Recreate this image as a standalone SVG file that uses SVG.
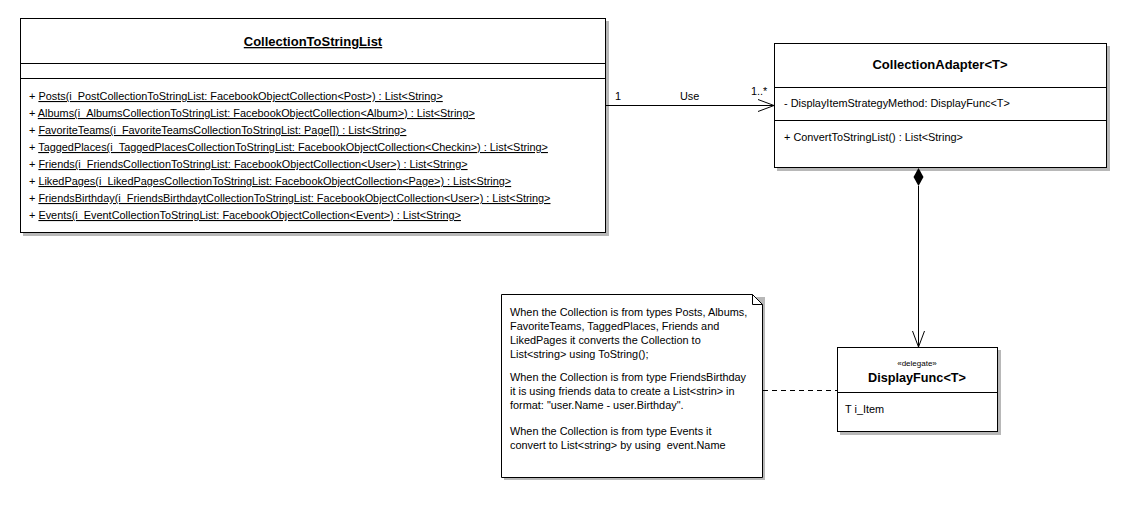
<svg xmlns="http://www.w3.org/2000/svg" width="1137" height="516" viewBox="0 0 1137 516">
<defs>
<style>
text{font-family:"Liberation Sans",Arial,sans-serif;fill:#000}
.m{font-size:10.9px}
.b{font-size:13px;font-weight:bold}
.b2{font-size:12.7px;font-weight:bold}
.s{font-size:8px}
.u{text-decoration:underline}
.box{fill:#fff;stroke:#000;stroke-width:1}
.sh{fill:#b8b8b8}
.ln{stroke:#000;stroke-width:1;fill:none}
</style>
<marker id="open" markerWidth="20" markerHeight="14" refX="17" refY="7" orient="auto" markerUnits="userSpaceOnUse">
<path d="M1,1 L17,7 L1,13" fill="none" stroke="#000" stroke-width="1"/>
</marker>
</defs>
<rect width="1137" height="516" fill="#fff"/>

<g id="CollectionToStringList">
<rect class="sh" x="23" y="21" width="586" height="215"/>
<rect class="box" x="20.5" y="18.5" width="585" height="214"/>
<line class="ln" x1="20.5" y1="63.5" x2="605.5" y2="63.5"/>
<line class="ln" x1="20.5" y1="78.5" x2="605.5" y2="78.5"/>
<text class="b u" x="313" y="46" text-anchor="middle">CollectionToStringList</text>
<text class="m" x="29" y="100">+ <tspan class="u">Posts(i_PostCollectionToStringList: FacebookObjectCollection&lt;Post&gt;) : List&lt;String&gt;</tspan></text>
<text class="m" x="29" y="117">+ <tspan class="u">Albums(i_AlbumsCollectionToStringList: FacebookObjectCollection&lt;Album&gt;) : List&lt;String&gt;</tspan></text>
<text class="m" x="29" y="134">+ <tspan class="u">FavoriteTeams(i_FavoriteTeamsCollectionToStringList: Page[]) : List&lt;String&gt;</tspan></text>
<text class="m" x="29" y="151">+ <tspan class="u">TaggedPlaces(i_TaggedPlacesCollectionToStringList: FacebookObjectCollection&lt;Checkin&gt;) : List&lt;String&gt;</tspan></text>
<text class="m" x="29" y="168">+ <tspan class="u">Friends(i_FriendsCollectionToStringList: FacebookObjectCollection&lt;User&gt;) : List&lt;String&gt;</tspan></text>
<text class="m" x="29" y="185">+ <tspan class="u">LikedPages(i_LikedPagesCollectionToStringList: FacebookObjectCollection&lt;Page&gt;) : List&lt;String&gt;</tspan></text>
<text class="m" x="29" y="202">+ <tspan class="u">FriendsBirthday(i_FriendsBirthdaytCollectionToStringList: FacebookObjectCollection&lt;User&gt;) : List&lt;String&gt;</tspan></text>
<text class="m" x="29" y="219">+ <tspan class="u">Events(i_EventCollectionToStringList: FacebookObjectCollection&lt;Event&gt;) : List&lt;String&gt;</tspan></text>
</g>

<g id="CollectionAdapter">
<rect class="sh" x="777" y="46" width="333" height="125"/>
<rect class="box" x="774.5" y="43.5" width="332" height="124"/>
<line class="ln" x1="774.5" y1="87.5" x2="1106.5" y2="87.5"/>
<line class="ln" x1="774.5" y1="120.5" x2="1106.5" y2="120.5"/>
<text class="b" x="940" y="69" text-anchor="middle">CollectionAdapter&lt;T&gt;</text>
<text class="m" x="784" y="107">- DisplayItemStrategyMethod: DisplayFunc&lt;T&gt;</text>
<text class="m" x="784" y="141">+ ConvertToStringList() : List&lt;String&gt;</text>
</g>

<g id="DisplayFunc">
<rect class="sh" x="840" y="350" width="161" height="85"/>
<rect class="box" x="837.5" y="347.5" width="160" height="84"/>
<line class="ln" x1="837.5" y1="392.5" x2="997.5" y2="392.5"/>
<text class="s" x="917" y="366" text-anchor="middle">«delegate»</text>
<text class="b2" x="917" y="382" text-anchor="middle">DisplayFunc&lt;T&gt;</text>
<text class="m" x="845" y="413">T i_Item</text>
</g>

<g id="Note">
<path class="sh" d="M504,297 H765 V480 H504 Z"/>
<path class="box" d="M501.5,294.5 H752.5 L762.5,304.5 V477.5 H501.5 Z"/>
<path class="ln" d="M752.5,294.5 V304.5 H762.5"/>
<text class="m" x="510" y="316">When the Collection is from types Posts, Albums,</text>
<text class="m" x="510" y="330">FavoriteTeams, TaggedPlaces, Friends and</text>
<text class="m" x="510" y="344">LikedPages it converts the Collection to</text>
<text class="m" x="510" y="358">List&lt;string&gt; using ToString();</text>
<text class="m" x="510" y="381">When the Collection is from type FriendsBirthday</text>
<text class="m" x="510" y="395">it is using friends data to create a List&lt;strin&gt; in</text>
<text class="m" x="510" y="409">format: "user.Name - user.Birthday".</text>
<text class="m" x="510" y="435">When the Collection is from type Events it</text>
<text class="m" x="510" y="449" xml:space="preserve">convert to List&lt;string&gt; by using  event.Name</text>
</g>

<g id="connectors">
<line class="ln" x1="606" y1="105.5" x2="774" y2="105.5" marker-end="url(#open)"/>
<text class="m" x="615" y="100">1</text>
<text class="m" x="680" y="100">Use</text>
<text class="m" x="751" y="95">1..*</text>
<path d="M918.5,168 L923.5,177 L918.5,186 L913.5,177 Z" fill="#000"/>
<line class="ln" x1="918.5" y1="186" x2="918.5" y2="347" marker-end="url(#open)"/>
<line class="ln" x1="763" y1="390.5" x2="837" y2="390.5" stroke-dasharray="5,4"/>
</g>
</svg>
